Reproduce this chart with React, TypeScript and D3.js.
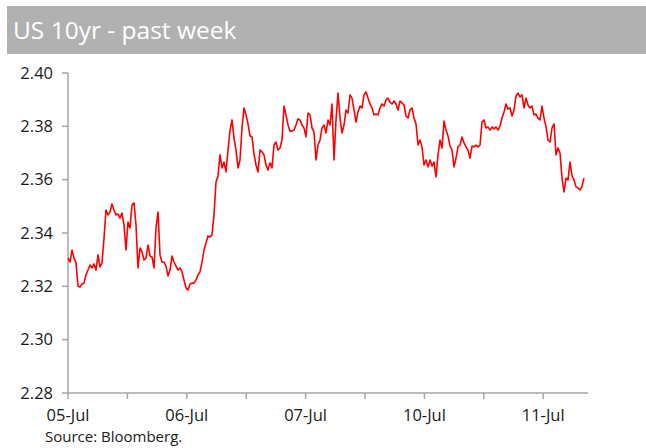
import React from "react";
import * as d3 from "d3";

const TITLE = "US 10yr - past week";
const SOURCE = "Source: Bloomberg.";
const Y_TICKS = [2.28, 2.3, 2.32, 2.34, 2.36, 2.38, 2.4];
const DAY_LABELS = ["05-Jul", "06-Jul", "07-Jul", "10-Jul", "11-Jul"];
const X_TICKS = [0, 0.5, 1, 1.5, 2, 2.5, 3, 3.5, 4];
const SAMPLES_PER_DAY = 59.4;
const YIELDS = [
  2.3306, 2.3291, 2.3336, 2.3306, 2.3288, 2.3201, 2.3197, 2.3209, 2.3212, 2.3243,
  2.3261, 2.328, 2.3269, 2.3284, 2.3261, 2.3318, 2.3273, 2.3288, 2.3381, 2.3486,
  2.3468, 2.3479, 2.3509, 2.3486, 2.3468, 2.3471, 2.3456, 2.3475, 2.343, 2.3336,
  2.3441, 2.3419, 2.3505, 2.3513, 2.343, 2.3269, 2.3344, 2.3329, 2.3299, 2.3306,
  2.3355, 2.3314, 2.331, 2.3269, 2.3419, 2.3479, 2.3318, 2.3291, 2.3291, 2.3276,
  2.3239, 2.3261, 2.3314, 2.3291, 2.3276, 2.3261, 2.3269, 2.3254, 2.3224, 2.3194,
  2.3186, 2.3209, 2.3212, 2.3212, 2.3224, 2.3243, 2.3254, 2.3291, 2.3336, 2.3363,
  2.3389, 2.3385, 2.3393, 2.3468, 2.3591, 2.3614, 2.3693, 2.3644, 2.3666, 2.3629,
  2.3711, 2.3786, 2.3824, 2.3756, 2.3711, 2.3644, 2.3674, 2.3794, 2.3869, 2.3843,
  2.3809, 2.3764, 2.3761, 2.3696, 2.3655, 2.3629, 2.3711, 2.3704, 2.3693, 2.3655,
  2.3636, 2.3663, 2.3644, 2.373, 2.3741, 2.3711, 2.3719, 2.3749, 2.3876, 2.3843,
  2.3805, 2.3782, 2.3782, 2.3786, 2.3805, 2.3828, 2.3824, 2.3805, 2.3794, 2.3761,
  2.385, 2.3843, 2.3794, 2.3779, 2.3674, 2.373, 2.3749, 2.3794, 2.3805, 2.3775,
  2.3824, 2.3805, 2.3884, 2.3674, 2.3824, 2.3925, 2.3831, 2.3775, 2.3805, 2.3861,
  2.385, 2.3918, 2.3906, 2.3861, 2.3816, 2.3854, 2.3876, 2.3869, 2.3918, 2.3929,
  2.3906, 2.3884, 2.3869, 2.3843, 2.3846, 2.3843, 2.3869, 2.3884, 2.3876, 2.3899,
  2.3906, 2.3891, 2.3884, 2.3895, 2.3884, 2.3861, 2.3895, 2.3888, 2.388, 2.3839,
  2.3831, 2.3861, 2.3869, 2.3831, 2.3809, 2.373, 2.3749, 2.3723, 2.3655, 2.3674,
  2.3648, 2.3674, 2.3651, 2.3666, 2.361, 2.3693, 2.3749, 2.3719, 2.382, 2.3786,
  2.3764, 2.3726, 2.3711, 2.3648, 2.3681, 2.3723, 2.373, 2.376, 2.3738, 2.3723,
  2.3711, 2.3681, 2.3726, 2.3723, 2.373, 2.3723, 2.373, 2.3816, 2.3824, 2.3794,
  2.3798, 2.3786, 2.3798, 2.379, 2.3798, 2.3786, 2.3801, 2.3831, 2.3854, 2.3884,
  2.3865, 2.3869, 2.3839, 2.3861, 2.3914, 2.3925, 2.391, 2.3918, 2.3869, 2.3906,
  2.388, 2.3869, 2.3876, 2.3843, 2.3846, 2.3831, 2.3824, 2.3876, 2.3831, 2.3798,
  2.3749, 2.3741, 2.3794, 2.3809, 2.3693, 2.3719, 2.37, 2.3606, 2.3554, 2.3606,
  2.3599, 2.3666, 2.3614, 2.3599, 2.3573, 2.3569, 2.3561, 2.3576, 2.3606,
];

const W = 646;
const H = 448;
const FONT = "'Open Sans', 'DejaVu Sans', sans-serif";
const AXIS = "#a6a6a6";

export default function App() {
  const x = d3.scaleLinear().domain([0, 4.377]).range([68, 588]);
  const y = d3.scaleLinear().domain([2.28, 2.4]).range([393, 73]);
  const line = d3
    .line<number>()
    .x((_, i) => x(i / SAMPLES_PER_DAY))
    .y((d) => y(d));

  return (
    <svg
      width={W}
      height={H}
      style={{ position: "absolute", left: 0, top: 0, background: "#fff" }}
      fontFamily={FONT}
    >
      <rect x={7} y={6} width={639} height={48} fill="#b1b1b1" />
      <text x={13} y={39} fontSize={24.5} fill="#fff">
        {TITLE}
      </text>

      {/* y axis */}
      <line x1={x(0)} x2={x(0)} y1={y(2.4)} y2={y(2.28)} stroke={AXIS} strokeWidth={1.5} />
      {Y_TICKS.map((t) => (
        <g key={t}>
          <line x1={x(0) - 6} x2={x(0)} y1={y(t)} y2={y(t)} stroke={AXIS} strokeWidth={1.5} />
          <text
            x={53}
            y={y(t)}
            dy="0.35em"
            textAnchor="end"
            fontSize={16.5}
            fill="#1a1a1a"
          >
            {d3.format(".2f")(t)}
          </text>
        </g>
      ))}

      {/* x axis */}
      <line x1={x(0)} x2={x.range()[1]} y1={y(2.28)} y2={y(2.28)} stroke={AXIS} strokeWidth={1.5} />
      {X_TICKS.map((t) => (
        <line
          key={t}
          x1={x(t)}
          x2={x(t)}
          y1={y(2.28)}
          y2={y(2.28) + 6}
          stroke={AXIS}
          strokeWidth={1.5}
        />
      ))}
      {DAY_LABELS.map((lab, i) => (
        <text key={lab} x={x(i)} y={421} textAnchor="middle" fontSize={16.5} fill="#1a1a1a">
          {lab}
        </text>
      ))}
      <text x={45} y={442} fontSize={15} fill="#1a1a1a">
        {SOURCE}
      </text>

      <path d={line(YIELDS) || ""} fill="none" stroke="#ff0000" strokeWidth={1.6} strokeLinejoin="round" />
    </svg>
  );
}
